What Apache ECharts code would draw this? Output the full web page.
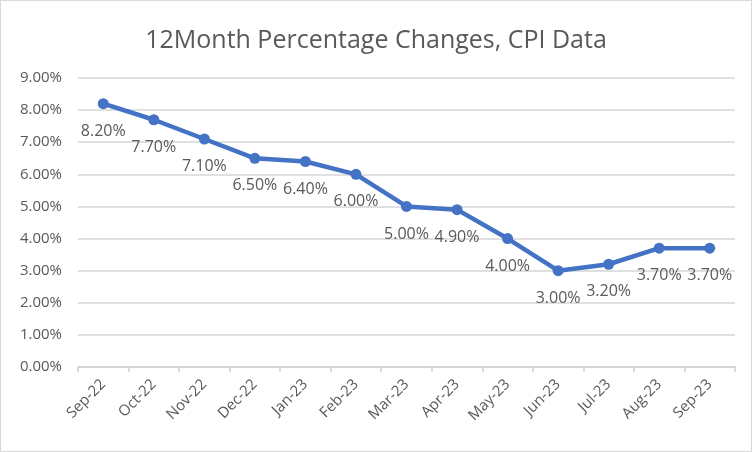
<!DOCTYPE html>
<html><head><meta charset="utf-8">
<script src="https://cdn.jsdelivr.net/npm/echarts@6/dist/echarts.min.js"></script>
<style>html,body{margin:0;padding:0;background:#fff}#c{width:752px;height:452px;box-sizing:border-box;border:1px solid #d9d9d9;}</style>
</head><body><div id="c"></div>
<script>
const categories = ['Sep-22','Oct-22','Nov-22','Dec-22','Jan-23','Feb-23','Mar-23','Apr-23','May-23','Jun-23','Jul-23','Aug-23','Sep-23'];
const cpiValues = [8.2,7.7,7.1,6.5,6.4,6.0,5.0,4.9,4.0,3.0,3.2,3.7,3.7];
const chart = echarts.init(document.getElementById('c'));
const txt = '#595959';
chart.setOption({
  animation:false,
  title:{text:'12Month Percentage Changes, CPI Data',left:'center',top:22,textStyle:{fontFamily:'Open Sans',fontSize:25,fontWeight:'normal',color:txt}},
  grid:{left:77,right:16,top:77,bottom:84},
  xAxis:{type:'category',data:categories,boundaryGap:true,
    axisLine:{lineStyle:{color:'#d0d0d0',width:1.5}},
    axisTick:{show:true,alignWithLabel:false,length:5,lineStyle:{color:'#d0d0d0',width:1.5}},
    axisLabel:{rotate:45,color:txt,fontFamily:'Open Sans',fontSize:15,margin:15,interval:0}},
  yAxis:{type:'value',min:0,max:9,interval:1,
    axisLine:{show:false},axisTick:{show:false},
    splitLine:{lineStyle:{color:'#d6d6d6',width:1.5}},
    axisLabel:{formatter:v=>v.toFixed(2)+'%',color:txt,fontFamily:'Open Sans',fontSize:15,margin:16}},
  series:[{type:'line',data:cpiValues,symbol:'circle',symbolSize:11,
    lineStyle:{color:'#4472C4',width:4.5},itemStyle:{color:'#4472C4'},
    label:{show:true,position:'bottom',distance:14,formatter:p=>p.value.toFixed(2)+'%',color:txt,fontFamily:'Open Sans',fontSize:16}}]
});
</script></body></html>
